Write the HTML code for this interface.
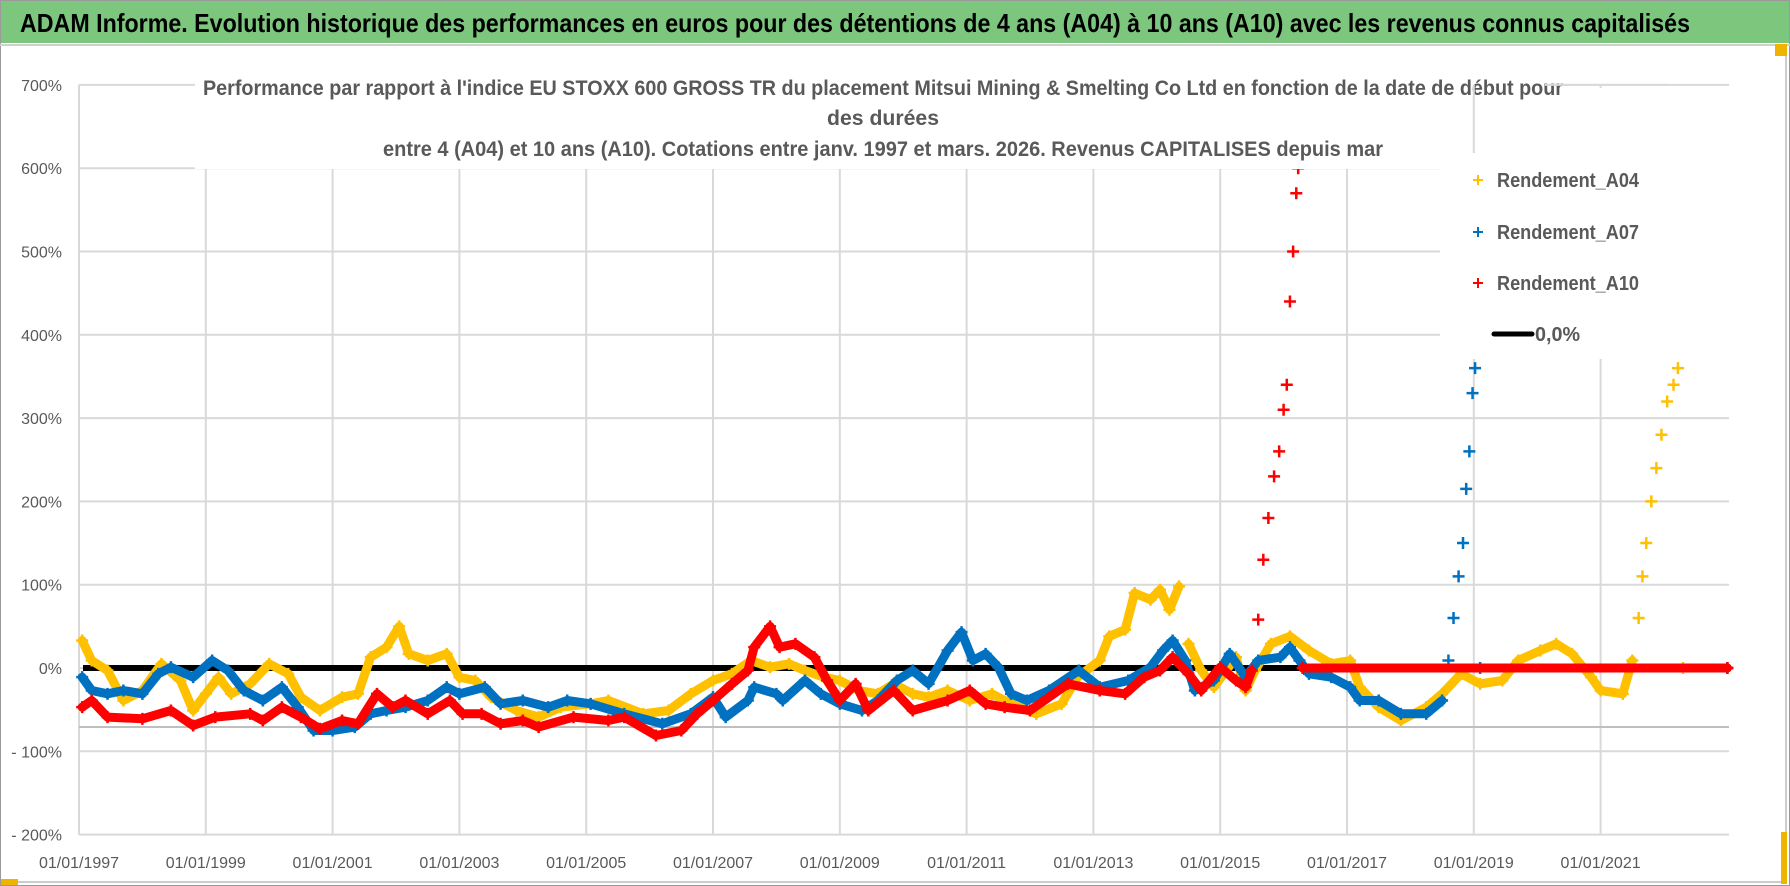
<!DOCTYPE html>
<html><head><meta charset="utf-8"><style>
html,body{margin:0;padding:0;background:#fff;}
svg{display:block;}
text{font-family:"Liberation Sans",sans-serif;}
</style></head><body>
<svg id="chart" width="1790" height="886" viewBox="0 0 1790 886" xmlns="http://www.w3.org/2000/svg">
<rect x="0" y="0" width="1790" height="886" fill="#fff"/>
<rect x="0.5" y="0.5" width="1789" height="885" fill="none" stroke="#9a9a9a"/>
<rect x="1" y="1" width="1788" height="42" fill="#7dc67e"/>
<line x1="0" y1="45" x2="1790" y2="45" stroke="#d0d0d0" stroke-width="2"/>
<text x="20" y="32" font-size="26" font-weight="bold" fill="#000" textLength="1670" lengthAdjust="spacingAndGlyphs">ADAM Informe. Evolution historique des performances en euros pour des détentions de 4 ans (A04) à 10 ans (A10) avec les revenus connus capitalisés</text>
<line x1="1786" y1="46" x2="1786" y2="882" stroke="#9a9a9a"/>
<line x1="0" y1="882" x2="1786" y2="882" stroke="#9a9a9a"/>
<rect x="1775" y="44" width="12" height="12" fill="#f0b400"/>
<rect x="1" y="879" width="17" height="6" fill="#f0b400"/>
<rect x="1781" y="832" width="6" height="52" fill="#f0b400"/>
<g id="grid"></g>
<g id="series"></g>
<g id="overlay"></g>
</svg>
<script>
const yTicks = [700,600,500,400,300,200,100,0,-100,-200];
const yTickLabels = ["700%","600%","500%","400%","300%","200%","100%","0%","- 100%","- 200%"];
const xTickYears = [1997,1999,2001,2003,2005,2007,2009,2011,2013,2015,2017,2019,2021];
const xTickLabels = ["01/01/1997","01/01/1999","01/01/2001","01/01/2003","01/01/2005","01/01/2007","01/01/2009","01/01/2011","01/01/2013","01/01/2015","01/01/2017","01/01/2019","01/01/2021"];

const a04Years = [1997.05,1997.2,1997.45,1997.7,1998.0,1998.3,1998.6,1998.8,1999.0,1999.2,1999.4,1999.7,2000.0,2000.3,2000.5,2000.8,2001.15,2001.4,2001.6,2001.85,2002.05,2002.2,2002.5,2002.8,2003.0,2003.25,2003.5,2003.9,2004.25,2004.6,2005.07,2005.35,2005.9,2006.3,2006.65,2007.0,2007.3,2007.6,2007.9,2008.2,2008.45,2008.75,2009.0,2009.3,2009.6,2009.85,2010.15,2010.4,2010.7,2011.05,2011.4,2011.7,2012.1,2012.5,2012.75,2013.1,2013.25,2013.5,2013.65,2013.9,2014.05,2014.2,2014.35,2014.5,2014.7,2014.9,2015.25,2015.4,2015.55,2015.8,2016.1,2016.4,2016.75,2017.05,2017.2,2017.5,2017.85,2018.25,2018.5,2018.8,2019.1,2019.45,2019.7,2020.05,2020.3,2020.55,2020.85,2021.0,2021.35,2021.5,2021.6,2021.66,2021.72,2021.8,2021.88,2021.96,2022.05,2022.15,2022.22,2022.26,2022.3,2023.0];
const a04Values = [33,9,-3,-39,-27,5,-15,-51,-31,-11,-31,-19,5,-7,-35,-51,-35,-31,13,25,50,17,9,17,-11,-15,-35,-51,-59,-47,-43,-39,-55,-51,-31,-15,-7,9,1,5,-3,-11,-15,-27,-31,-19,-31,-35,-27,-39,-31,-43,-55,-43,-11,9,38,46,90,82,94,70,98,29,-3,-23,13,-27,-3,29,38,21,5,9,-23,-47,-63,-47,-31,-7,-19,-15,9,21,29,17,-11,-27,-31,9,60,110,150,200,240,280,320,340,360,null,0,0];

const a07Years = [1997.05,1997.2,1997.45,1997.7,1998.0,1998.25,1998.45,1998.8,1999.1,1999.35,1999.6,1999.9,2000.2,2000.45,2000.7,2001.0,2001.35,2001.6,2001.85,2002.15,2002.5,2002.8,2003.0,2003.4,2003.65,2004.0,2004.4,2004.7,2005.07,2005.6,2006.2,2006.65,2007.0,2007.2,2007.55,2007.65,2008.0,2008.1,2008.45,2008.7,2009.0,2009.35,2009.6,2009.9,2010.15,2010.4,2010.7,2010.92,2011.1,2011.3,2011.5,2011.7,2011.95,2012.3,2012.77,2013.1,2013.55,2013.9,2014.1,2014.25,2014.45,2014.6,2014.9,2015.15,2015.4,2015.6,2015.95,2016.1,2016.25,2016.4,2016.75,2017.05,2017.2,2017.5,2017.85,2018.25,2018.5,2018.6,2018.68,2018.76,2018.83,2018.88,2018.93,2018.98,2019.02,2019.06,2019.1,2023.0];
const a07Values = [-11,-27,-31,-27,-31,-7,1,-11,9,-3,-27,-39,-23,-47,-75,-75,-71,-55,-51,-47,-39,-23,-31,-23,-43,-39,-47,-39,-43,-55,-67,-55,-35,-59,-39,-23,-31,-39,-15,-31,-43,-51,-39,-15,-3,-19,21,43,9,17,1,-31,-39,-27,-3,-23,-15,1,21,33,9,-27,-15,17,-11,9,13,25,9,-7,-11,-23,-39,-39,-55,-55,-39,9,60,110,150,215,260,330,360,null,0,0];

const a10Years = [1997.05,1997.2,1997.45,1998.0,1998.45,1998.8,1999.15,1999.7,1999.9,2000.2,2000.5,2000.8,2001.15,2001.4,2001.7,2001.95,2002.15,2002.5,2002.85,2003.05,2003.35,2003.65,2004.0,2004.25,2004.8,2005.35,2005.6,2006.1,2006.5,2006.75,2007.0,2007.3,2007.55,2007.65,2007.9,2008.05,2008.3,2008.6,2008.8,2009.0,2009.25,2009.45,2009.85,2010.15,2010.7,2011.05,2011.3,2011.6,2012.0,2012.6,2013.1,2013.5,2013.8,2014.05,2014.25,2014.5,2014.7,2015.0,2015.25,2015.4,2015.5,2015.6,2015.68,2015.76,2015.85,2015.93,2016.0,2016.05,2016.1,2016.15,2016.2,2016.23,2016.27,2016.3,2023.0];
const a10Values = [-47,-39,-59,-61,-51,-69,-59,-55,-63,-47,-59,-73,-63,-67,-31,-47,-39,-55,-39,-55,-55,-67,-63,-71,-59,-63,-59,-81,-75,-55,-39,-19,-3,25,50,25,29,13,-15,-39,-19,-51,-27,-51,-39,-27,-43,-47,-51,-19,-27,-31,-11,-3,13,-7,-27,1,-15,-23,-3,58,130,180,230,260,310,340,440,500,570,600,null,0,0];

const NS = "http://www.w3.org/2000/svg";
const X0 = 79, PX_PER_YEAR = 63.4, Y0 = 668, PX_PER_PCT = 0.833, XR = 1729;
function xOf(t){ return X0 + (t - 1997) * PX_PER_YEAR; }
function yOf(v){ return Y0 - v * PX_PER_PCT; }
function mk(tag, attrs, parent){ const e = document.createElementNS(NS, tag); for (const k in attrs) e.setAttribute(k, attrs[k]); parent.appendChild(e); return e; }

const grid = document.getElementById('grid');
const series = document.getElementById('series');
const overlay = document.getElementById('overlay');

yTicks.forEach((v, i) => {
  const l = mk('line', {x1: X0, x2: XR, y1: yOf(v), y2: yOf(v), stroke: '#d9d9d9', 'stroke-width': 2}, grid);
  
  
  const t = mk('text', {x: 62, y: yOf(v) + 6, 'text-anchor': 'end', 'font-size': 16, fill: '#595959'}, grid);
  t.textContent = yTickLabels[i];
  
  
});
xTickYears.forEach((yr, i) => {
  const l = mk('line', {x1: xOf(yr), x2: xOf(yr), y1: yOf(700), y2: yOf(-200), stroke: '#d9d9d9', 'stroke-width': 2}, grid);
  
  
  const t = mk('text', {x: xOf(yr), y: 868, 'text-anchor': 'middle', 'font-size': 16, fill: '#595959'}, grid);
  t.textContent = xTickLabels[i];
  
  
});
const axl = mk('line', {x1: X0, x2: XR, y1: 727, y2: 727, stroke: '#bfbfbf', 'stroke-width': 2}, grid);



const zl = mk('line', {x1: X0 + 4, x2: XR, y1: yOf(0), y2: yOf(0), stroke: '#000', 'stroke-width': 6}, series);



function drawSeries(years, vals, color, name){
  const g = mk('g', {}, series);
  
  
  let seg = [];
  const flush = () => {
    if (seg.length > 1) {
      const p = mk('polyline', {points: seg.join(' '), fill: 'none', stroke: color, 'stroke-width': 9, 'stroke-linejoin': 'round', 'stroke-linecap': 'round'}, g);
      
      
    }
    seg = [];
  };
  let prev = null;
  years.forEach((t, i) => {
    const v = vals[i];
    if (v === null) { flush(); prev = null; return; }
    if (prev !== null && (Math.abs(v - prev) > 45 || Math.max(v, prev) >= 110)) flush();
    seg.push(xOf(t).toFixed(1) + ',' + yOf(v).toFixed(1));
    prev = v;
  });
  flush();
  years.forEach((t, i) => {
    const v = vals[i];
    if (v === null) return;
    const x = xOf(t), y = yOf(v);
    const m = mk('path', {d: `M${x-6},${y}H${x+6}M${x},${y-6}V${y+6}`, stroke: color, 'stroke-width': 2.5}, g);
    
    
  });
}
drawSeries(a04Years, a04Values, '#ffc000', 'series-a04');
drawSeries(a07Years, a07Values, '#0070c0', 'series-a07');
drawSeries(a10Years, a10Values, '#ff0000', 'series-a10');

const tb = mk('rect', {x: 195, y: 72, width: 1350, height: 97, fill: '#fff'}, overlay);


const titleLines = [
  ["Performance par rapport à l'indice EU STOXX 600 GROSS TR  du placement Mitsui Mining & Smelting Co Ltd en fonction de la date de début pour", 95, 1360],
  ["des durées", 125, 112],
  ["entre 4 (A04) et 10 ans (A10). Cotations entre janv. 1997 et mars. 2026. Revenus CAPITALISES depuis mar", 156, 1000]
];
titleLines.forEach((l) => {
  const t = mk('text', {x: 883, y: l[1], 'text-anchor': 'middle', 'font-size': 21, 'font-weight': 'bold', fill: '#595959', textLength: l[2], lengthAdjust: 'spacingAndGlyphs'}, overlay);
  t.textContent = l[0];
  
  
});

const lb = mk('rect', {x: 1440, y: 153, width: 289, height: 206, fill: '#fff'}, overlay);


const lb2 = mk('rect', {x: 1560, y: 88, width: 169, height: 70, fill: '#fff'}, overlay);


const tl = mk('line', {x1: 1545, x2: 1668, y1: yOf(700), y2: yOf(700), stroke: '#d9d9d9', 'stroke-width': 2}, overlay);


const tv = mk('line', {x1: xOf(2019), x2: xOf(2019), y1: yOf(700), y2: 153, stroke: '#d9d9d9', 'stroke-width': 2}, overlay);



const legendNames = ["Rendement_A04","Rendement_A07","Rendement_A10"];
const legendColors = ['#ffc000','#0070c0','#ff0000'];
const legendY = [180, 232, 283];
legendNames.forEach((n, i) => {
  const y = legendY[i];
  const m = mk('path', {d: `M1473,${y}H1483M1478,${y-5}V${y+5}`, stroke: legendColors[i], 'stroke-width': 2}, overlay);
  
  
  const t = mk('text', {x: 1497, y: y + 7, 'font-size': 20, 'font-weight': 'bold', fill: '#595959', textLength: 142, lengthAdjust: 'spacingAndGlyphs'}, overlay);
  t.textContent = n;
  
  
});
const zlm = mk('line', {x1: 1494, x2: 1532, y1: 334, y2: 334, stroke: '#000', 'stroke-width': 5, 'stroke-linecap': 'round'}, overlay);


const zlt = mk('text', {x: 1535, y: 341, 'font-size': 20, 'font-weight': 'bold', fill: '#595959', textLength: 45, lengthAdjust: 'spacingAndGlyphs'}, overlay);
zlt.textContent = '0,0%';


</script>
</body></html>
